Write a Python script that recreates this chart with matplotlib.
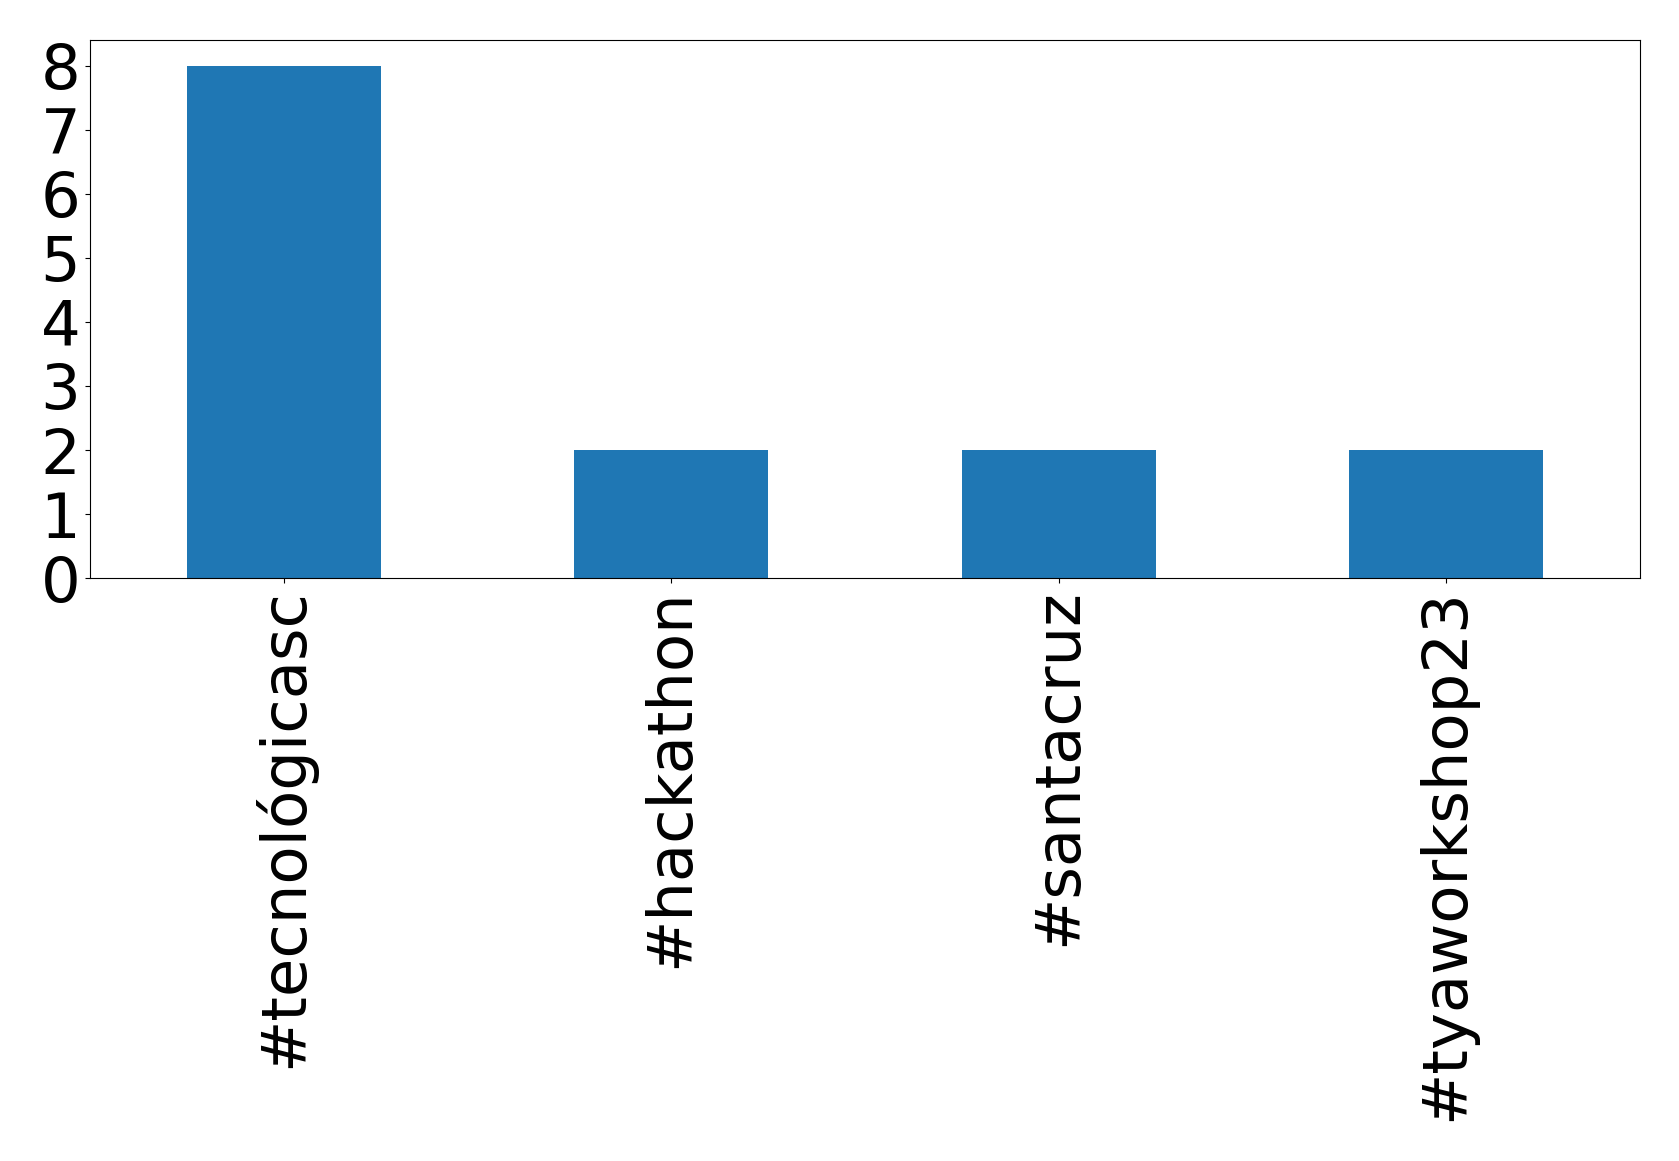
import matplotlib
matplotlib.use("Agg")
import matplotlib.pyplot as plt
import pandas as pd

hashtags = ["#tecnológicasc", "#hackathon", "#santacruz", "#tyaworkshop23"]
counts = [8, 2, 2, 2]

fig = plt.figure(figsize=(16.79, 11.61), dpi=100)
ax = fig.add_axes([0.0536, 0.502, 0.9232, 0.4635])

pd.Series(counts, index=hashtags).plot(kind="bar", ax=ax, color="#1f77b4", fontsize=45)
ax.set_ylim(0, 8.4)
ax.set_yticks(range(0, 9))
ax.tick_params(axis="both", labelsize=45)

fig.savefig("out.png", dpi=100)
